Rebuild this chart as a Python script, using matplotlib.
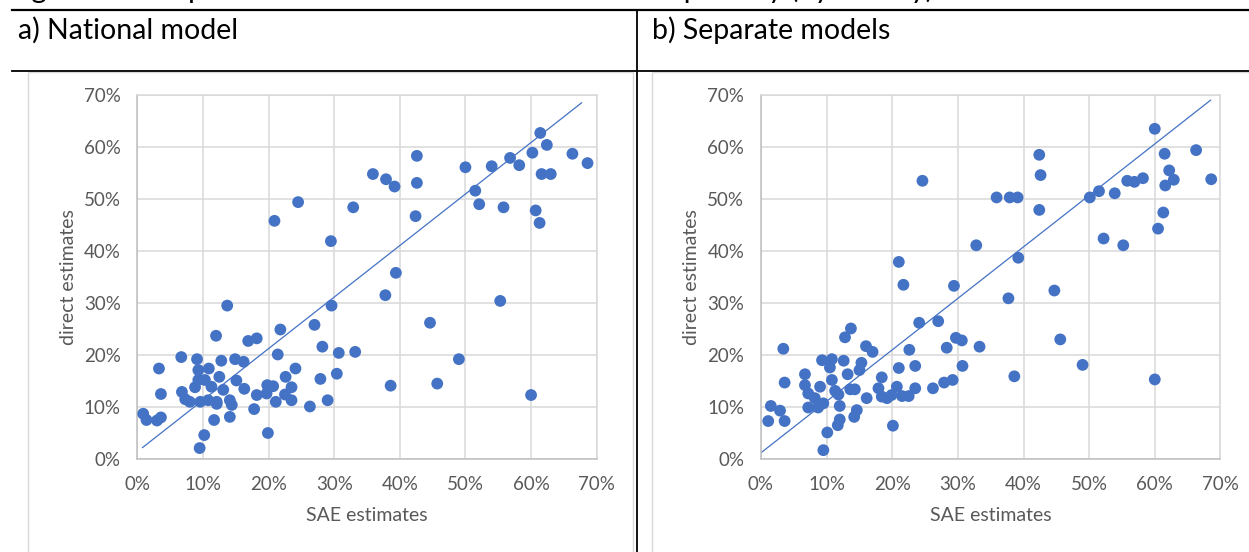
import matplotlib
matplotlib.use("Agg")
import matplotlib.pyplot as plt
from matplotlib.lines import Line2D
from matplotlib.patches import Rectangle
from matplotlib.ticker import MultipleLocator, PercentFormatter

plt.rcParams['font.family'] = ['Lato', 'DejaVu Sans']

W, H = 1249, 552

# a) National model: SAE estimate (x) vs direct estimate (y), in percent
national_sae = [20.9, 24.5, 29.5, 32.9, 35.9, 37.9, 39.2, 42.6, 42.6, 42.4, 39.4, 50.0,
                54.0, 56.8, 58.2, 60.2, 61.4, 62.4, 66.3, 68.6, 61.6, 63.0, 51.5, 52.1,
                55.8, 60.7, 61.3, 37.8, 55.3, 44.6, 49.0, 38.6, 45.7, 60.0, 13.7, 29.6,
                27.0, 21.8, 12.0, 16.9, 18.2, 28.2, 30.7, 33.2, 21.4, 6.7, 9.1, 12.8,
                14.9, 16.2, 3.3, 9.3, 10.9, 24.1, 12.5, 22.6, 30.4, 27.9, 9.3, 10.3,
                15.1, 11.3, 8.8, 16.3, 19.8, 20.7, 23.5, 13.1, 3.6, 6.8, 18.2, 19.7,
                22.5, 7.3, 8.0, 9.6, 10.8, 12.1, 14.1, 14.4, 12.1, 21.1, 23.5, 26.3,
                17.8, 29.0, 14.1, 11.7, 0.9, 1.4, 3.0, 3.6, 10.2, 19.9, 9.5]
national_direct = [45.8, 49.4, 41.9, 48.4, 54.8, 53.8, 52.4, 58.3, 53.1, 46.7, 35.8, 56.1,
                   56.3, 57.9, 56.5, 58.9, 62.7, 60.4, 58.7, 56.9, 54.8, 54.8, 51.6, 49.0,
                   48.4, 47.8, 45.4, 31.5, 30.4, 26.2, 19.2, 14.1, 14.5, 12.3, 29.5, 29.5,
                   25.8, 24.9, 23.7, 22.7, 23.2, 21.6, 20.4, 20.6, 20.1, 19.6, 19.2, 18.9,
                   19.2, 18.7, 17.4, 17.1, 17.4, 17.4, 15.8, 15.8, 16.4, 15.4, 15.2, 15.2,
                   15.1, 13.9, 13.8, 13.5, 14.2, 14.0, 13.8, 13.3, 12.5, 12.9, 12.3, 12.6,
                   12.4, 11.5, 11.0, 11.0, 11.3, 11.0, 11.3, 10.4, 10.6, 11.0, 11.3, 10.1,
                   9.6, 11.3, 8.1, 7.5, 8.7, 7.5, 7.4, 8.0, 4.6, 5.0, 2.1]
national_line_x = [0.8, 67.7]
national_line_y = [2.2, 68.5]

# b) Separate models
separate_sae = [24.6, 32.8, 21.0, 60.0, 42.4, 42.6, 42.4, 35.9, 37.9, 39.1, 39.2, 50.1,
                51.5, 53.9, 55.8, 56.9, 58.2, 61.5, 66.3, 62.2, 62.9, 61.6, 68.6, 61.3,
                60.5, 52.2, 55.2, 37.7, 44.7, 45.6, 38.6, 49.0, 60.0, 21.7, 29.4, 24.1,
                27.0, 13.7, 12.8, 16.0, 17.0, 3.4, 22.6, 28.3, 29.7, 30.6, 33.3, 9.3,
                10.8, 12.6, 10.5, 15.3, 15.0, 13.2, 21.0, 23.5, 30.7, 6.7, 3.6, 6.7,
                10.8, 18.4, 9.0, 7.2, 11.3, 11.8, 13.6, 14.3, 17.9, 20.7, 23.5, 26.2,
                27.9, 29.2, 16.1, 18.4, 19.2, 19.9, 21.5, 22.5, 8.2, 9.5, 8.7, 7.2,
                12.0, 1.5, 2.9, 1.1, 3.6, 14.6, 14.2, 12.0, 11.7, 10.1, 20.1, 9.5]
separate_direct = [53.5, 41.1, 37.9, 63.5, 58.5, 54.6, 47.9, 50.3, 50.3, 50.3, 38.7, 50.3,
                   51.5, 51.1, 53.5, 53.3, 54.0, 58.7, 59.4, 55.5, 53.7, 52.6, 53.8, 47.4,
                   44.3, 42.4, 41.1, 30.9, 32.4, 23.0, 15.9, 18.1, 15.3, 33.5, 33.3, 26.2,
                   26.5, 25.1, 23.4, 21.7, 20.6, 21.2, 21.0, 21.4, 23.3, 22.8, 21.6, 19.0,
                   19.2, 18.9, 17.6, 18.5, 17.1, 16.3, 17.5, 17.9, 17.9, 16.3, 14.7, 14.2,
                   15.2, 15.7, 13.9, 12.6, 13.1, 12.4, 13.4, 13.4, 13.6, 13.9, 13.6, 13.6,
                   14.7, 15.2, 11.7, 12.0, 11.7, 12.3, 12.1, 12.1, 11.7, 10.7, 9.9, 9.9,
                   10.2, 10.2, 9.3, 7.3, 7.3, 9.4, 8.1, 7.6, 6.5, 5.1, 6.4, 1.7]
separate_line_x = [0.0, 68.5]
separate_line_y = [1.2, 69.0]

BLUE = '#4472C4'
GREY_TXT = '#595959'


def fx(x):
    return x / W


def fy(y):
    return 1 - y / H


fig = plt.figure(figsize=(W / 100, H / 100), dpi=100)

# caption of the page, only its lowest part is visible at the top edge
fig.text(fx(8), fy(-2), "Figure 4: Comparison of direct and SAE estimates of poverty (by county)",
         fontsize=21, va='baseline', ha='left', color='black')

# table borders
fig.add_artist(Line2D([fx(12), 1], [fy(10), fy(10)], color='black', lw=1.6))
fig.add_artist(Line2D([fx(12), 1], [fy(71), fy(71)], color='black', lw=1.3))
fig.add_artist(Line2D([fx(637), fx(637)], [fy(10), 0], color='black', lw=1.3))

# chart area frames
fig.add_artist(Rectangle((fx(28), -0.1), fx(633 - 28), fy(72) + 0.1, fill=False,
                         edgecolor='#d9d9d9', lw=1))
fig.add_artist(Rectangle((fx(652), -0.1), fx(700), fy(72) + 0.1, fill=False,
                         edgecolor='#d9d9d9', lw=1))

fig.text(fx(18), fy(30), "a) National model", fontsize=20.5, va='center', ha='left')
fig.text(fx(652), fy(30), "b) Separate models", fontsize=20.5, va='center', ha='left')

panels = [
    (137.3, national_sae, national_direct, national_line_x, national_line_y),
    (761.0, separate_sae, separate_direct, separate_line_x, separate_line_y),
]

for left, xs, ys, lx, ly in panels:
    ax = fig.add_axes([fx(left), fy(459), fx(459.4), (459 - 95) / H])
    ax.plot([v / 100 for v in lx], [v / 100 for v in ly], color=BLUE, lw=0.9, zorder=2)
    ax.scatter([v / 100 for v in xs], [v / 100 for v in ys], s=72, color=BLUE,
               edgecolors='none', zorder=3)
    ax.set_xlim(0, 0.7)
    ax.set_ylim(0, 0.7)
    ax.xaxis.set_major_locator(MultipleLocator(0.1))
    ax.yaxis.set_major_locator(MultipleLocator(0.1))
    ax.xaxis.set_major_formatter(PercentFormatter(1.0, decimals=0))
    ax.yaxis.set_major_formatter(PercentFormatter(1.0, decimals=0))
    ax.grid(True, color='#d9d9d9', lw=1.1)
    ax.set_axisbelow(True)
    for side in ['top', 'right']:
        ax.spines[side].set_color('#d9d9d9')
    for side in ['bottom', 'left']:
        ax.spines[side].set_color('#bfbfbf')
    for sp in ax.spines.values():
        sp.set_linewidth(1.1)
    ax.tick_params(length=0, pad=12, labelsize=13.5, labelcolor=GREY_TXT)
    ax.set_xlabel("SAE estimates", fontsize=14, color=GREY_TXT, labelpad=10)
    ax.set_ylabel("direct estimates", fontsize=14, color=GREY_TXT, labelpad=5)

fig.savefig("out.png", dpi=100)
